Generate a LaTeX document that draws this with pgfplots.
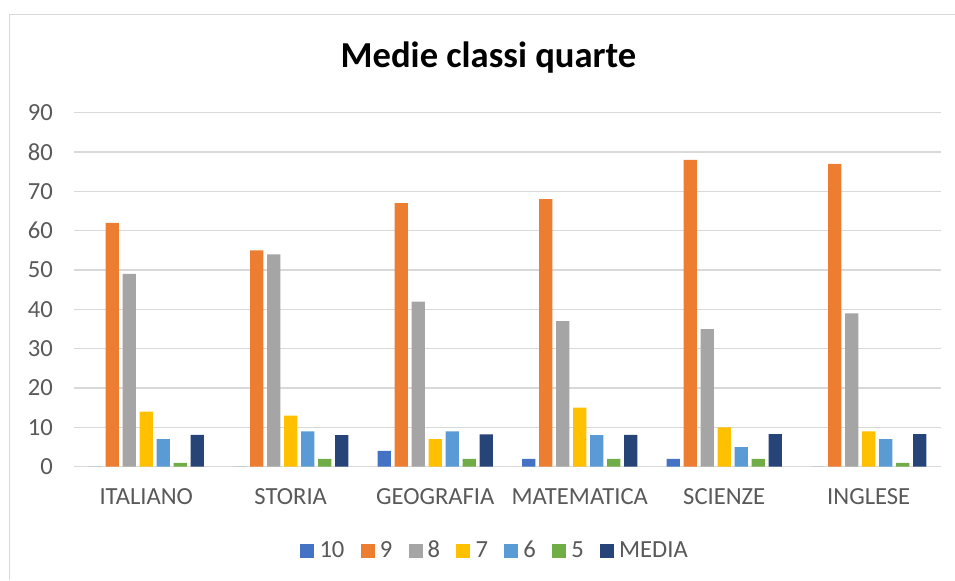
\documentclass[border=0pt]{standalone}
\usepackage{pgfplots}
\pgfplotsset{compat=1.18}
\usepackage{fontspec}
\setmainfont{Carlito}
\definecolor{c10}{HTML}{4472C4}
\definecolor{c9}{HTML}{ED7D31}
\definecolor{c8}{HTML}{A5A5A5}
\definecolor{c7}{HTML}{FFC000}
\definecolor{c6}{HTML}{5B9BD5}
\definecolor{c5}{HTML}{70AD47}
\definecolor{cm}{HTML}{264478}
\definecolor{txt}{HTML}{595959}
\definecolor{grd}{HTML}{D9D9D9}
\begin{document}
\begin{tikzpicture}
\path[use as bounding box] (0,0) rectangle (477.5pt,290pt);
\draw[grd, line width=0.8pt] (4.75pt,0) -- (4.75pt,282.75pt) -- (477.5pt,282.75pt);
\node[anchor=base, font=\fontsize{18.3}{21}\selectfont\bfseries] at (244.25pt,256pt) {Medie classi quarte};
\begin{axis}[
  at={(37pt,56.65pt)}, anchor=south west,
  scale only axis, width=433.5pt, height=177pt,
  xmin=-0.5, xmax=5.5, ymin=0, ymax=90,
  ytick={0,10,...,90},
  xtick={0,1,2,3,4,5},
  xticklabels={ITALIANO,STORIA,GEOGRAFIA,MATEMATICA,SCIENZE,INGLESE},
  ymajorgrids, grid style={grd, line width=0.75pt},
  axis line style={draw=none},
  major tick length=0pt,
  /pgf/number format/assume math mode=true,
  tick label style={font=\fontsize{12.3}{14}\selectfont, text=txt},
  yticklabel style={xshift=-7pt},
  xticklabel style={yshift=-7.5pt},
  ybar, bar width=0.092,
  every axis plot/.append style={draw=none},
  legend columns=-1,
  legend style={at={(axis description cs:0.4875,-0.238)}, anchor=center, draw=none,
    font=\fontsize{12.3}{14}\selectfont, text=txt,
    nodes={inner sep=2.6pt},
    /tikz/every even column/.append style={column sep=5.5pt}},
  legend image code/.code={\fill[#1] (0pt,-3.5pt) rectangle (7pt,3.5pt);},
]
\addplot[fill=c10, bar shift=-0.3529] coordinates {(0,0) (1,0) (2,4) (3,2) (4,2) (5,0)};
\addplot[fill=c9, bar shift=-0.2353] coordinates {(0,62) (1,55) (2,67) (3,68) (4,78) (5,77)};
\addplot[fill=c8, bar shift=-0.1176] coordinates {(0,49) (1,54) (2,42) (3,37) (4,35) (5,39)};
\addplot[fill=c7, bar shift=0] coordinates {(0,14) (1,13) (2,7) (3,15) (4,10) (5,9)};
\addplot[fill=c6, bar shift=0.1176] coordinates {(0,7) (1,9) (2,9) (3,8) (4,5) (5,7)};
\addplot[fill=c5, bar shift=0.2353] coordinates {(0,1) (1,2) (2,2) (3,2) (4,2) (5,1)};
\addplot[fill=cm, bar shift=0.3529] coordinates {(0,8.1) (1,8.0) (2,8.2) (3,8.1) (4,8.3) (5,8.3)};
\legend{10,9,8,7,6,5,MEDIA}
\end{axis}
\end{tikzpicture}
\end{document}
